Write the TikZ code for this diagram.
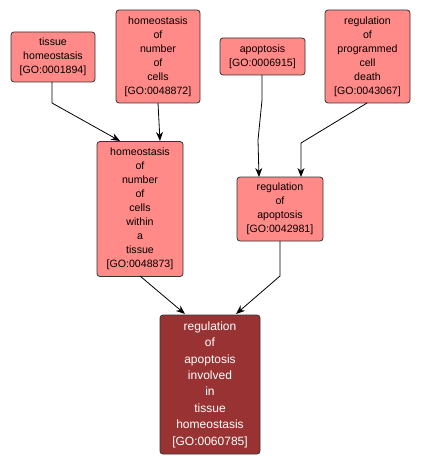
\documentclass[tikz,border=0pt]{standalone}
\usepackage{fontspec}
\setmainfont{Liberation Sans}
\usetikzlibrary{arrows.meta}
\definecolor{nodepink}{HTML}{FF8A87}
\definecolor{nodedark}{HTML}{993333}
\begin{document}
\begin{tikzpicture}[x=1pt,y=-1pt,
  gobox/.style={draw=black!80, line width=0.8pt, fill=nodepink, rounded corners=3pt,
    align=center, inner sep=0pt, font=\fontsize{10.6}{14}\selectfont},
  edge/.style={line width=0.8pt, -{Stealth[length=9pt,width=7pt]}}]
\useasboundingbox (0,0) rectangle (421,465);
\node[gobox, minimum width=84pt, minimum height=50pt] (th) at (53,57) {tissue\\homeostasis\\{[GO:0001894]}};
\node[gobox, minimum width=84pt, minimum height=93pt] (hnc) at (158,56.5) {homeostasis\\of\\number\\of\\cells\\{[GO:0048872]}};
\node[gobox, minimum width=85pt, minimum height=37pt] (ap) at (262.5,56.5) {apoptosis\\{[GO:0006915]}};
\node[gobox, minimum width=85pt, minimum height=93pt] (rpcd) at (367.5,56.5) {regulation\\of\\programmed\\cell\\death\\{[GO:0043067]}};
\node[gobox, minimum width=86pt, minimum height=135pt] (hnct) at (140,209) {homeostasis\\of\\number\\of\\cells\\within\\a\\tissue\\{[GO:0048873]}};
\node[gobox, minimum width=86pt, minimum height=64pt] (ra) at (280,209) {regulation\\of\\apoptosis\\{[GO:0042981]}};
\node[gobox, fill=nodedark, text=white, font=\fontsize{12}{16.4}\selectfont, minimum width=100pt, minimum height=139pt] (main) at (210,384.5) {regulation\\of\\apoptosis\\involved\\in\\tissue\\homeostasis\\{[GO:0060785]}};
\coordinate (c1) at (52,103);
\coordinate (c2) at (262,100);
\coordinate (c3) at (258,140);
\coordinate (c4) at (301,143);
\coordinate (c5) at (280,276);
\draw[edge] (52,82) -- (c1) -- (120,141);
\draw[edge] (158,103) -- (160,141);
\draw[edge] (262,75) -- (c2) -- (c3) -- (259,177);
\draw[edge] (367,103) -- (c4) -- (301,177);
\draw[edge] (140,276) -- (185,314);
\draw[edge] (280,241) -- (c5) -- (236,314);
\end{tikzpicture}
\end{document}
